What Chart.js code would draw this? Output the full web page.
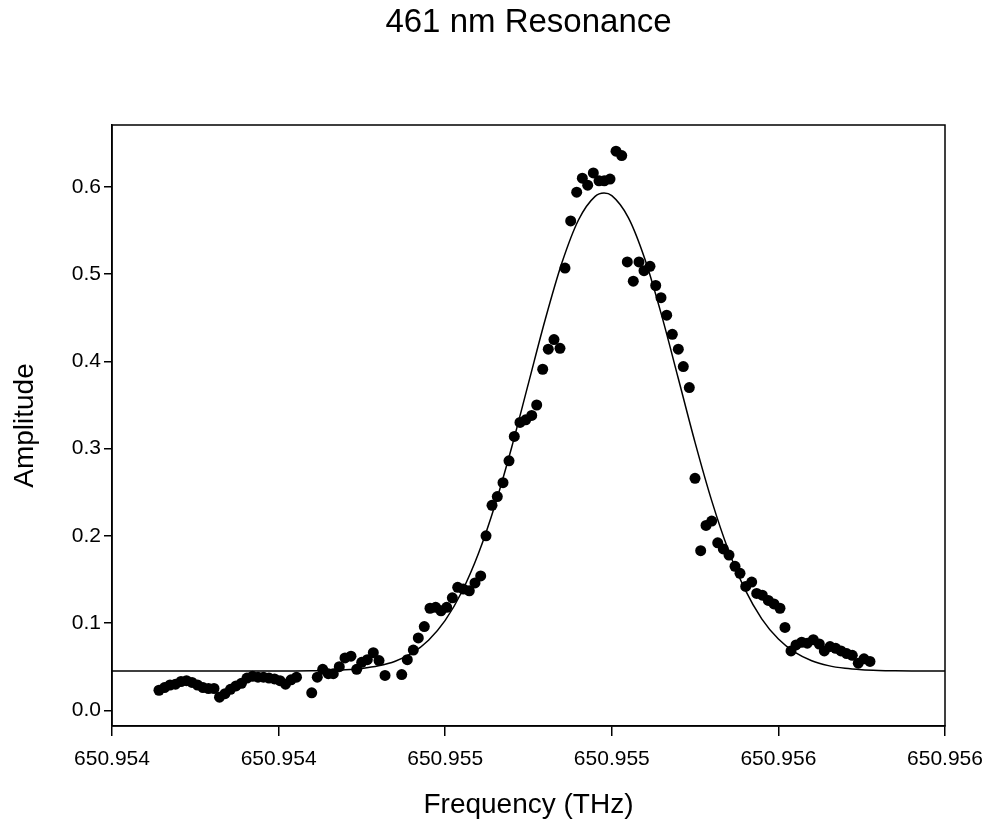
<!DOCTYPE html>
<html>
<head>
<meta charset="utf-8">
<script src="https://cdn.jsdelivr.net/npm/chart.js@4"></script>
<style>
  html, body { margin: 0; padding: 0; background: #fff; }
</style>
</head>
<body>
<canvas id="resonanceChart" width="989" height="822"></canvas>
<script>
// Measured points (THz, amplitude)
const freq = [
    650.9541128, 650.9541261, 650.9541393, 650.9541525, 650.9541657, 650.9541789,
    650.9541921, 650.9542053, 650.9542185, 650.9542317, 650.9542449, 650.9542581,
    650.9542713, 650.9542845, 650.9542977, 650.9543109, 650.9543241, 650.9543373,
    650.9543505, 650.9543637, 650.9543770, 650.9543902, 650.9544034, 650.9544166,
    650.9544298, 650.9544430, 650.9544795, 650.9544929, 650.9545059, 650.9545193,
    650.9545313, 650.9545457, 650.9545594, 650.9545738, 650.9545875, 650.9545995,
    650.9546130, 650.9546274, 650.9546411, 650.9546555, 650.9546956, 650.9547090,
    650.9547234, 650.9547354, 650.9547498, 650.9547635, 650.9547772, 650.9547899,
    650.9548036, 650.9548171, 650.9548300, 650.9548435, 650.9548579, 650.9548715,
    650.9548852, 650.9548980, 650.9549124, 650.9549251, 650.9549388, 650.9549532,
    650.9549659, 650.9549796, 650.9549933, 650.9550077, 650.9550197, 650.9550341,
    650.9550475, 650.9550612, 650.9550756, 650.9550876, 650.9551013, 650.9551157,
    650.9551292, 650.9551421, 650.9551556, 650.9551693, 650.9551820, 650.9551957,
    650.9552101, 650.9552238, 650.9552372, 650.9552516, 650.9552653, 650.9552773,
    650.9552917, 650.9553054, 650.9553181, 650.9553318, 650.9553453, 650.9553597,
    650.9553717, 650.9553861, 650.9553998, 650.9554134, 650.9554262, 650.9554399,
    650.9554543, 650.9554677, 650.9554814, 650.9554958, 650.9555078, 650.9555215,
    650.9555359, 650.9555479, 650.9555614, 650.9555758, 650.9555894, 650.9556038,
    650.9556158, 650.9556303, 650.9556423, 650.9556559, 650.9556694, 650.9556838,
    650.9556982, 650.9557102, 650.9557239, 650.9557376, 650.9557503, 650.9557640,
    650.9557774, 650.9557918, 650.9558055, 650.9558199
];
const amplitude = [
    0.023, 0.026, 0.029, 0.030, 0.033, 0.034,
    0.032, 0.029, 0.026, 0.025, 0.025, 0.015,
    0.019, 0.024, 0.028, 0.031, 0.037, 0.039,
    0.038, 0.038, 0.037, 0.036, 0.034, 0.030,
    0.035, 0.038, 0.020, 0.038, 0.047, 0.042,
    0.042, 0.050, 0.060, 0.062, 0.047, 0.055,
    0.058, 0.066, 0.057, 0.040, 0.041, 0.058,
    0.069, 0.083, 0.096, 0.117, 0.118, 0.114,
    0.118, 0.129, 0.141, 0.139, 0.137, 0.146,
    0.154, 0.200, 0.235, 0.245, 0.261, 0.286,
    0.314, 0.330, 0.333, 0.338, 0.350, 0.391,
    0.414, 0.425, 0.415, 0.507, 0.561, 0.594,
    0.610, 0.602, 0.616, 0.607, 0.607, 0.609,
    0.641, 0.636, 0.514, 0.492, 0.514, 0.504,
    0.509, 0.487, 0.473, 0.453, 0.431, 0.414,
    0.394, 0.370, 0.266, 0.183, 0.212, 0.217,
    0.192, 0.185, 0.178, 0.165, 0.157, 0.142,
    0.147, 0.134, 0.132, 0.126, 0.122, 0.117,
    0.095, 0.068, 0.075, 0.078, 0.077, 0.081,
    0.076, 0.068, 0.073, 0.071, 0.068, 0.065,
    0.063, 0.054, 0.059, 0.056
];

// Fitted curve
const fitFreq = [
    650.95400, 650.95404, 650.95408, 650.95412, 650.95416, 650.95420,
    650.95424, 650.95428, 650.95432, 650.95436, 650.95440, 650.95444,
    650.95448, 650.95452, 650.95456, 650.95460, 650.95464, 650.95468,
    650.95472, 650.95476, 650.95480, 650.95484, 650.95488, 650.95492,
    650.95496, 650.95500, 650.95504, 650.95508, 650.95512, 650.95516,
    650.9551813, 650.95520, 650.95524, 650.95528, 650.95532, 650.95536,
    650.95540, 650.95544, 650.95548, 650.95552, 650.95556, 650.95560,
    650.95564, 650.95568, 650.95572, 650.95576, 650.95580, 650.95584,
    650.95588, 650.95592, 650.95596, 650.95600
];
const fitAmplitude = [
    0.045, 0.045, 0.045, 0.045, 0.045, 0.045,
    0.045, 0.045, 0.045, 0.045, 0.045, 0.0451,
    0.0453, 0.0456, 0.0464, 0.0480, 0.0510, 0.0563,
    0.0655, 0.0804, 0.1031, 0.1359, 0.1800, 0.2360,
    0.3022, 0.3751, 0.4477, 0.5127, 0.5621, 0.5892,
    0.5930, 0.5900, 0.5646, 0.5165, 0.4522, 0.3798,
    0.3069, 0.2401, 0.1834, 0.1383, 0.1049, 0.0817,
    0.0663, 0.0568, 0.0512, 0.0481, 0.0465, 0.0457,
    0.0453, 0.0451, 0.045, 0.045
];

const xTicks = [650.9540, 650.9544, 650.9548, 650.9552, 650.9556, 650.9560];
const yTicks = [0.0, 0.1, 0.2, 0.3, 0.4, 0.5, 0.6];

const FONT = "'Liberation Sans', Arial, sans-serif";

// box round the plot area
const framePlugin = {
    id: 'frame',
    afterDatasetsDraw(chart) {
        const { ctx, chartArea: a } = chart;
        ctx.save();
        ctx.strokeStyle = '#000';
        ctx.lineWidth = 1.5;
        ctx.strokeRect(a.left, a.top, a.right - a.left, a.bottom - a.top);
        ctx.restore();
    }
};

const resonanceChart = new Chart(document.getElementById('resonanceChart'), {
    type: 'scatter',
    data: {
        datasets: [{
            label: 'Data',
            data: freq.map((f, i) => ({ x: f, y: amplitude[i] })),
            backgroundColor: '#000',
            borderWidth: 0,
            pointRadius: 5.5,
            showLine: false
        }, {
            type: 'line',
            label: 'Fit',
            data: fitFreq.map((f, i) => ({ x: f, y: fitAmplitude[i] })),
            borderColor: '#000',
            borderWidth: 1.5,
            pointRadius: 0,
            fill: false,
            cubicInterpolationMode: 'monotone'
        }]
    },
    options: {
        responsive: false,
        animation: false,
        layout: {
            padding: { left: 0, right: 44, top: 0, bottom: 0 }
        },
        plugins: {
            legend: { display: false },
            tooltip: { enabled: false },
            title: {
                display: true,
                text: '461 nm Resonance',
                color: '#000',
                fullSize: false,
                font: { family: FONT, size: 33, weight: 'normal' },
                padding: { top: 3.5, bottom: 81.9 }
            }
        },
        scales: {
            x: {
                type: 'linear',
                position: 'bottom',
                min: 650.954,
                max: 650.956,
                afterBuildTicks: s => { s.ticks = xTicks.map(v => ({ value: v })); },
                afterFit: s => {
                    s.height = 96;
                    s.paddingLeft = 0;
                    s.paddingRight = 0;
                },
                ticks: {
                    callback: v => v.toFixed(3),
                    color: '#000',
                    font: { family: FONT, size: 21 },
                    autoSkip: false,
                    maxRotation: 0,
                    padding: 11
                },
                grid: { drawOnChartArea: false, tickLength: 10, color: '#000', lineWidth: 1.5 },
                border: { color: '#000', width: 1.5 },
                title: {
                    display: true,
                    text: 'Frequency (THz)',
                    color: '#000',
                    font: { family: FONT, size: 28 },
                    padding: { top: 0, bottom: 0 }
                }
            },
            y: {
                min: -0.018,
                max: 0.671,
                afterBuildTicks: s => { s.ticks = yTicks.map(v => ({ value: v })); },
                afterFit: s => { s.width = 112; },
                ticks: {
                    callback: v => v.toFixed(1),
                    color: '#000',
                    font: { family: FONT, size: 21 },
                    padding: 3
                },
                grid: { drawOnChartArea: false, tickLength: 8, color: '#000', lineWidth: 1.5 },
                border: { color: '#000', width: 1.5 },
                title: {
                    display: true,
                    text: 'Amplitude',
                    color: '#000',
                    font: { family: FONT, size: 28 },
                    padding: { top: 8, bottom: 0 }
                }
            }
        }
    },
    plugins: [framePlugin]
});
</script>
</body>
</html>
